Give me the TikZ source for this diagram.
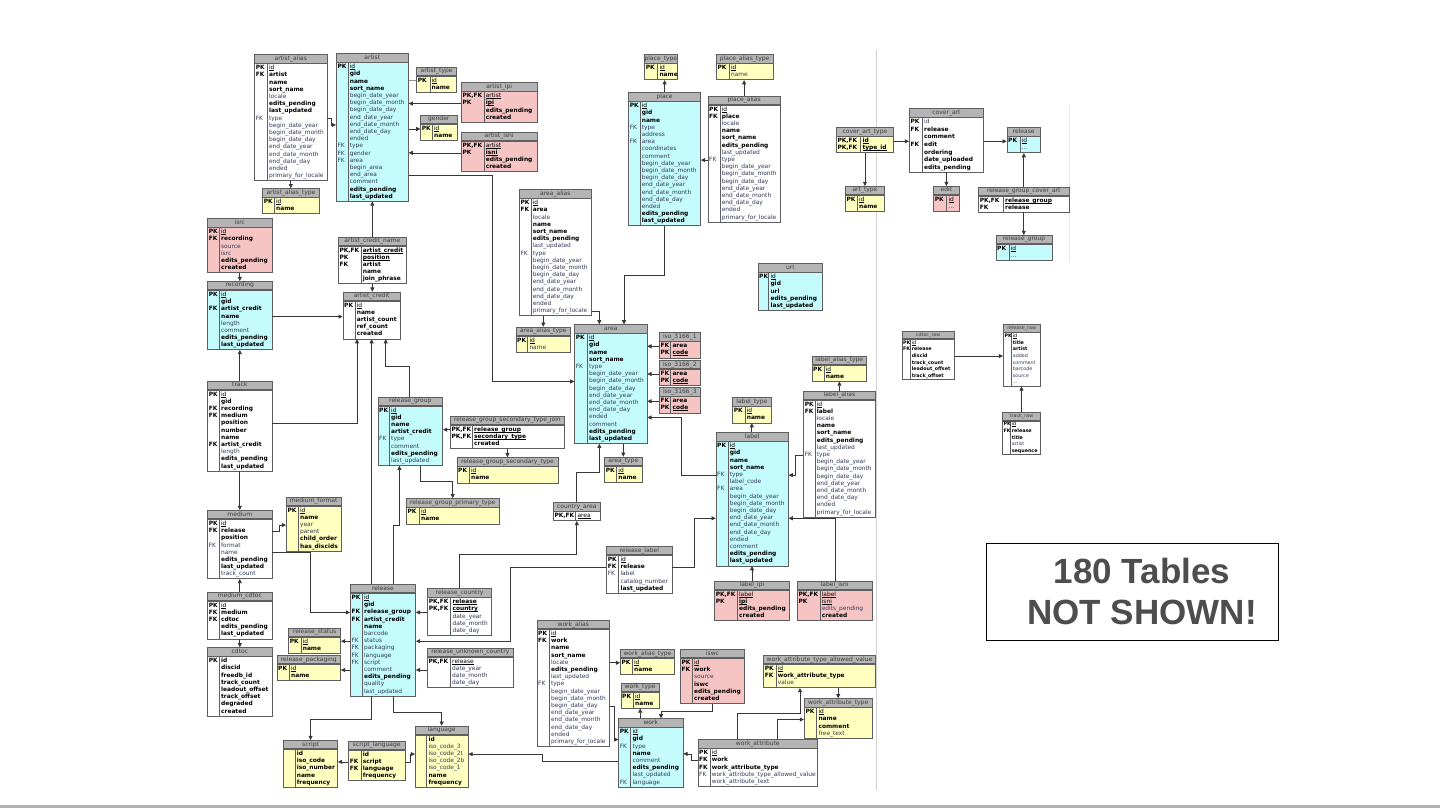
\documentclass[tikz,border=0pt]{standalone}
\usepackage{fontspec}
\setmainfont{DejaVu Sans}
\newfontfamily\notefont{Liberation Sans}
\usetikzlibrary{arrows.meta,calc}
\definecolor{tline}{RGB}{95,95,95}
\definecolor{hdfill}{RGB}{180,180,180}
\definecolor{hdtext}{RGB}{60,60,60}
\definecolor{slate}{RGB}{50,58,90}
\definecolor{cyanb}{RGB}{196,252,253}
\definecolor{yelb}{RGB}{255,255,192}
\definecolor{pinkb}{RGB}{247,196,196}
\definecolor{lnk}{RGB}{55,55,55}
\definecolor{notegray}{RGB}{77,77,77}
\newcommand{\hfont}{\fontsize{6}{7}\selectfont}
\newcommand{\ffont}{\fontsize{5.9}{7.2}\selectfont}
\newcommand{\kfont}{\fontsize{5.9}{7.2}\selectfont\bfseries}
\newcommand{\hh}{8.4}
\newcommand{\bx}{9}
\newcommand{\fo}{5}
\newcommand{\nnf}[1]{{\bfseries\color{black}#1}}
\newcommand{\ulf}[1]{{\color{black}\setbox0=\hbox{#1}\rlap{\rule[-0.75pt]{\wd0}{0.35pt}}\box0}}
\newcommand{\pkf}[1]{\ulf{#1}}
\newcommand{\pkb}[1]{\ulf{\bfseries #1}}
\newcommand{\lfk}{{\mdseries\color{slate}FK}}
\newcommand{\rawsetup}{%
  \renewcommand{\hfont}{\fontsize{4.8}{5.6}\selectfont}%
  \renewcommand{\ffont}{\fontsize{4.8}{5.6}\selectfont}%
  \renewcommand{\kfont}{\fontsize{4.8}{5.6}\selectfont\bfseries}%
  \renewcommand{\hh}{7.6}\renewcommand{\bx}{7.4}\renewcommand{\fo}{4}}
\tikzset{
  thead/.style={draw=tline,fill=hdfill,line width=0.6pt,inner sep=0pt,anchor=north west,
    minimum height=\hh pt,font=\hfont,text=hdtext,text height=4.2pt,text depth=1.2pt},
  tbody/.style={draw=tline,line width=0.6pt,inner sep=0pt,anchor=north west},
  keyt/.style={inner sep=0pt,anchor=west,font=\kfont,text height=4.2pt,text depth=1.3pt},
  fldt/.style={inner sep=0pt,anchor=west,font=\ffont,text=slate,text height=4.2pt,text depth=1.3pt},
  colsep/.style={draw=tline,line width=0.5pt},
  fk/.style={draw=lnk,line width=0.7pt,-{Triangle[length=4.2pt,width=4pt]}},
  plainln/.style={draw=lnk!55,line width=0.7pt},
  notebox/.style={draw=black,line width=0.8pt,minimum width=292pt,minimum height=97pt,inner sep=0pt},
  notetext/.style={align=center,inner sep=0pt,text=notegray,
    font=\notefont\bfseries\fontsize{35}{41}\selectfont},
}
% [pitch]{id}{title}{x}{y}{width}{key column}{fill}{rows}
\newcommand{\dbtable}[9][7.2]{%
  \node[thead,minimum width=#6pt] (#2-h) at (#4,#5) {#3};
  \foreach \rowitem [count=\cnt] in {#9} {\xdef\nrows{\cnt}}
  \node[tbody,fill=#8,minimum width=#6pt,minimum height={(\nrows-1)*#1+\bx}] (#2) at (#2-h.south west) {};
  \draw[colsep] ([xshift=#7pt]#2.north west) -- ([xshift=#7pt]#2.south west);
  \foreach \keytxt/\fldtxt [count=\i] in {#9} {
    \node[keyt] (#2-k\i) at ($(#2.north west)+(1.3,{\fo+(\i-1)*#1})$) {\keytxt};
    \node[fldt] (#2-f\i) at ($(#2.north west)+(#7+1.6,{\fo+(\i-1)*#1})$) {\fldtxt};
  }
}
\begin{document}
\catcode`\_=12
\begin{tikzpicture}[x=1pt,y=-1pt]
\useasboundingbox (0,0) rectangle (1440,810);
\draw[gray!35,line width=0.6pt] (876,50) -- (876,790);
\draw[gray!20,line width=0.6pt] (1069,105) -- (1069,262);
\draw[gray!60,line width=2.5pt] (0,806.5) -- (1440,806.5);

\dbtable{artist_alias}{artist_alias}{254.3}{54.3}{72.4}{13}{white}{PK/\pkf{id}, FK/\nnf{artist}, /\nnf{name}, /\nnf{sort_name}, /locale, /\nnf{edits_pending}, /\nnf{last_updated}, \lfk/type, /begin_date_year, /begin_date_month, /begin_date_day, /end_date_year, /end_date_month, /end_date_day, /ended, /primary_for_locale}
\dbtable{artist}{artist}{336}{53.3}{72}{12}{cyanb}{PK/\pkf{id}, /\nnf{gid}, /\nnf{name}, /\nnf{sort_name}, /begin_date_year, /begin_date_month, /begin_date_day, /end_date_year, /end_date_month, /end_date_day, /ended, \lfk/type, \lfk/gender, \lfk/area, /begin_area, /end_area, /comment, /\nnf{edits_pending}, /\nnf{last_updated}}
\dbtable{artist_type}{artist_type}{416.3}{66.7}{40}{13.5}{yelb}{PK/\pkf{id}, /\nnf{name}}
\dbtable{gender}{gender}{420.3}{115}{36.4}{12}{yelb}{PK/\pkf{id}, /\nnf{name}}
\dbtable{artist_ipi}{artist_ipi}{461}{82.3}{75.7}{23}{pinkb}{{PK,FK}/\pkf{artist}, PK/\pkb{ipi}, /\nnf{edits_pending}, /\nnf{created}}
\dbtable{artist_isni}{artist_isni}{461}{131.7}{75.7}{23}{pinkb}{{PK,FK}/\pkf{artist}, PK/\pkb{isni}, /\nnf{edits_pending}, /\nnf{created}}
\dbtable{artist_alias_type}{artist_alias_type}{262.3}{188.3}{56.7}{12}{yelb}{PK/\pkf{id}, /\nnf{name}}
\dbtable{isrc}{isrc}{207.3}{218.3}{64.4}{12}{pinkb}{PK/\pkf{id}, FK/\nnf{recording}, /source, /isrc, /\nnf{edits_pending}, /\nnf{created}}
\dbtable{recording}{recording}{207.3}{281}{64.4}{12}{cyanb}{PK/\pkf{id}, /\nnf{gid}, FK/\nnf{artist_credit}, /\nnf{name}, /length, /comment, /\nnf{edits_pending}, /\nnf{last_updated}}
\dbtable{artist_credit_name}{artist_credit_name}{338}{236.7}{68}{23}{white}{{PK,FK}/\pkb{artist_credit}, PK/\pkb{position}, FK/\nnf{artist}, /\nnf{name}, /\nnf{join_phrase}}
\dbtable{artist_credit}{artist_credit}{342.7}{291.7}{57.3}{12.3}{white}{PK/\pkf{id}, /\nnf{name}, /\nnf{artist_count}, /\nnf{ref_count}, /\nnf{created}}
\dbtable{track}{track}{207.3}{380.7}{64.4}{12}{white}{PK/\pkf{id}, /\nnf{gid}, FK/\nnf{recording}, FK/\nnf{medium}, /\nnf{position}, /\nnf{number}, /\nnf{name}, FK/\nnf{artist_credit}, /length, /\nnf{edits_pending}, /\nnf{last_updated}}
\dbtable{medium}{medium}{207.3}{510}{64.4}{12}{white}{PK/\pkf{id}, FK/\nnf{release}, /\nnf{position}, \lfk/format, /name, /\nnf{edits_pending}, /\nnf{last_updated}, /track_count}
\dbtable{medium_format}{medium_format}{286}{496.7}{54.7}{12.3}{yelb}{PK/\pkf{id}, /\nnf{name}, /year, /parent, /\nnf{child_order}, /\nnf{has_discids}}
\dbtable{medium_cdtoc}{medium_cdtoc}{207.3}{591.7}{64.4}{12}{white}{PK/\pkf{id}, FK/\nnf{medium}, FK/\nnf{cdtoc}, /\nnf{edits_pending}, /\nnf{last_updated}}
\dbtable{cdtoc}{cdtoc}{207.3}{647.3}{64.4}{12}{white}{PK/\nnf{id}, /\nnf{discid}, /\nnf{freedb_id}, /\nnf{track_count}, /\nnf{leadout_offset}, /\nnf{track_offset}, /\nnf{degraded}, /\nnf{created}}
\dbtable{release_group}{release_group}{377.7}{396.7}{64.7}{11.7}{cyanb}{PK/\pkf{id}, /\nnf{gid}, /\nnf{name}, /\nnf{artist_credit}, \lfk/type, /comment, /\nnf{edits_pending}, /last_updated}
\dbtable{release_group_secondary_type_join}{release_group_secondary_type_join}{450}{415.7}{114.3}{22.3}{white}{{PK,FK}/\pkb{release_group}, {PK,FK}/\pkb{secondary_type}, /\nnf{created}}
\dbtable{release_group_secondary_type}{release_group_secondary_type}{456.7}{457.3}{101}{12.6}{yelb}{PK/\pkf{id}, /\nnf{name}}
\dbtable{release_group_primary_type}{release_group_primary_type}{406}{498.3}{92.7}{13.3}{yelb}{PK/\pkf{id}, /\nnf{name}}
\dbtable{country_area}{country_area}{553}{502.3}{47}{22.7}{white}{{PK,FK}/\pkf{area}}
\dbtable{area_alias}{area_alias}{519}{189.3}{72}{12}{white}{PK/\pkf{id}, FK/\nnf{area}, /locale, /\nnf{name}, /\nnf{sort_name}, /\nnf{edits_pending}, /last_updated, \lfk/type, /begin_date_year, /begin_date_month, /begin_date_day, /end_date_year, /end_date_month, /end_date_day, /ended, /primary_for_locale}
\dbtable{area_alias_type}{area_alias_type}{515.7}{326.7}{54.6}{12}{yelb}{PK/\pkf{id}, /name}
\dbtable{area}{area}{574.3}{324.3}{72.4}{13}{cyanb}{PK/\pkf{id}, /\nnf{gid}, /\nnf{name}, /\nnf{sort_name}, \lfk/type, /begin_date_year, /begin_date_month, /begin_date_day, /end_date_year, /end_date_month, /end_date_day, /ended, /comment, /\nnf{edits_pending}, /\nnf{last_updated}}
\dbtable{iso_3166_1}{iso_3166_1}{659}{332.3}{41}{11.7}{pinkb}{FK/\nnf{area}, PK/\pkb{code}}
\dbtable{iso_3166_2}{iso_3166_2}{659}{360}{41}{11.7}{pinkb}{FK/\nnf{area}, PK/\pkb{code}}
\dbtable{iso_3166_3}{iso_3166_3}{659}{387.3}{41}{11.7}{pinkb}{FK/\nnf{area}, PK/\pkb{code}}
\dbtable{area_type}{area_type}{604.3}{456.7}{37.4}{12.3}{yelb}{PK/\pkf{id}, /\nnf{name}}
\dbtable{place_type}{place_type}{644.3}{54.3}{32.4}{13.4}{yelb}{PK/\pkf{id}, /\nnf{name}}
\dbtable{place_alias_type}{place_alias_type}{716}{54.3}{56.7}{13.3}{yelb}{PK/\pkf{id}, /name}
\dbtable{place}{place}{628.3}{92.3}{72}{11.7}{cyanb}{PK/\pkf{id}, /\nnf{gid}, /\nnf{name}, \lfk/type, /address, \lfk/area, /coordinates, /comment, /begin_date_year, /begin_date_month, /begin_date_day, /end_date_year, /end_date_month, /end_date_day, /ended, /\nnf{edits_pending}, /\nnf{last_updated}}
\dbtable{place_alias}{place_alias}{707.7}{95.7}{72.3}{12.3}{white}{PK/\pkf{id}, FK/\nnf{place}, /locale, /\nnf{name}, /\nnf{sort_name}, /\nnf{edits_pending}, /last_updated, \lfk/type, /begin_date_year, /begin_date_month, /begin_date_day, /end_date_year, /end_date_month, /end_date_day, /ended, /primary_for_locale}
\dbtable{url}{url}{757.7}{263.3}{64.3}{11}{cyanb}{PK/\pkf{id}, /\nnf{gid}, /\nnf{url}, /\nnf{edits_pending}, /\nnf{last_updated}}
\dbtable{label_type}{label_type}{732.3}{397.3}{38.4}{12.7}{yelb}{PK/\pkf{id}, /\nnf{name}}
\dbtable{label}{label}{715.7}{432.3}{72.3}{12.3}{cyanb}{PK/\pkf{id}, /\nnf{gid}, /\nnf{name}, /\nnf{sort_name}, \lfk/type, /label_code, \lfk/area, /begin_date_year, /begin_date_month, /begin_date_day, /end_date_year, /end_date_month, /end_date_day, /ended, /comment, /\nnf{edits_pending}, /\nnf{last_updated}}
\dbtable{label_alias_type}{label_alias_type}{811.7}{355.7}{54.6}{12.3}{yelb}{PK/\pkf{id}, /\nnf{name}}
\dbtable{label_alias}{label_alias}{803.3}{390.7}{71.7}{11.7}{white}{PK/\pkf{id}, FK/\nnf{label}, /locale, /\nnf{name}, /\nnf{sort_name}, /\nnf{edits_pending}, /last_updated, \lfk/type, /begin_date_year, /begin_date_month, /begin_date_day, /end_date_year, /end_date_month, /end_date_day, /ended, /primary_for_locale}
\dbtable{release_label}{release_label}{606.3}{546}{65.4}{12.4}{white}{PK/\pkf{id}, FK/\nnf{release}, \lfk/label, /catalog_number, /\nnf{last_updated}}
\dbtable{label_ipi}{label_ipi}{714.3}{580.7}{74.7}{23}{pinkb}{{PK,FK}/\pkf{label}, PK/\pkb{ipi}, /\nnf{edits_pending}, /\nnf{created}}
\dbtable{label_isni}{label_isni}{797}{580.7}{74.7}{23}{pinkb}{{PK,FK}/\pkf{label}, PK/\pkf{isni}, /edits_pending, /\nnf{created}}
\dbtable{release}{release}{350}{584}{65.3}{12.3}{cyanb}{PK/\pkf{id}, /\nnf{gid}, FK/\nnf{release_group}, FK/\nnf{artist_credit}, /\nnf{name}, /barcode, \lfk/status, \lfk/packaging, \lfk/language, \lfk/script, /comment, /\nnf{edits_pending}, /quality, /last_updated}
\dbtable{release_status}{release_status}{288.3}{627.7}{52}{12.7}{yelb}{PK/\pkf{id}, /\nnf{name}}
\dbtable{release_packaging}{release_packaging}{276.7}{655}{63.6}{12.6}{yelb}{PK/\pkf{id}, /\nnf{name}}
\dbtable{release_country}{release_country}{427.3}{588.3}{64}{23.4}{white}{{PK,FK}/\pkb{release}, {PK,FK}/\pkb{country}, /date_year, /date_month, /date_day}
\dbtable{release_unknown_country}{release_unknown_country}{427}{647.7}{86}{23.4}{white}{{PK,FK}/\pkf{release}, /date_year, /date_month, /date_day}
\dbtable{script}{script}{283.3}{740}{54}{11.7}{yelb}{/\nnf{id}, /\nnf{iso_code}, /\nnf{iso_number}, /\nnf{name}, /\nnf{frequency}}
\dbtable{script_language}{script_language}{348.3}{740.7}{56.4}{12.7}{yelb}{/\nnf{id}, FK/\nnf{script}, FK/\nnf{language}, /\nnf{frequency}}
\dbtable{language}{language}{415}{725.7}{52.7}{11.7}{yelb}{/\nnf{id}, /iso_code_3, /iso_code_2t, /iso_code_2b, /iso_code_1, /\nnf{name}, /\nnf{frequency}}
\dbtable{work_alias}{work_alias}{536.7}{620}{72.6}{12.6}{white}{PK/\pkf{id}, FK/\nnf{work}, /\nnf{name}, /\nnf{sort_name}, /locale, /\nnf{edits_pending}, /last_updated, \lfk/type, /begin_date_year, /begin_date_month, /begin_date_day, /end_date_year, /end_date_month, /end_date_day, /ended, /primary_for_locale}
\dbtable{work_alias_type}{work_alias_type}{620}{649}{54.3}{12.3}{yelb}{PK/\pkf{id}, /\nnf{name}}
\dbtable{iswc}{iswc}{680}{649}{64.3}{12.3}{pinkb}{PK/\pkf{id}, FK/\nnf{work}, /source, /\nnf{iswc}, /\nnf{edits_pending}, /\nnf{created}}
\dbtable{work_type}{work_type}{620.7}{682.7}{38.3}{12.6}{yelb}{PK/\pkf{id}, /\nnf{name}}
\dbtable{work}{work}{618.3}{718.3}{64.4}{12.4}{cyanb}{PK/\pkf{id}, /\nnf{gid}, \lfk/type, /\nnf{name}, /comment, /\nnf{edits_pending}, /last_updated, \lfk/language}
\dbtable{work_attribute}{work_attribute}{697.7}{739.3}{119.6}{12.3}{white}{PK/\pkf{id}, FK/\nnf{work}, FK/\nnf{work_attribute_type}, \lfk/work_attribute_type_allowed_value, /work_attribute_text}
\dbtable{work_attribute_type_allowed_value}{work_attribute_type_allowed_value}{763.3}{655}{111.7}{12.7}{yelb}{PK/\pkf{id}, FK/\nnf{work_attribute_type}, /value}
\dbtable{work_attribute_type}{work_attribute_type}{804}{698.3}{67.7}{12.7}{yelb}{PK/\pkf{id}, /\nnf{name}, /\nnf{comment}, /free_text}
\dbtable{cover_art_type}{cover_art_type}{836}{127.3}{57.3}{24.7}{yelb}{{PK,FK}/\pkb{id}, {PK,FK}/\pkb{type_id}}
\dbtable{art_type}{art_type}{845}{186}{39.3}{12.3}{yelb}{PK/\pkf{id}, /\nnf{name}}
\dbtable[7.6]{cover_art}{cover_art}{909}{108.3}{74.3}{13.3}{white}{PK/id, FK/\nnf{release}, /\nnf{comment}, FK/\nnf{edit}, /\nnf{ordering}, /\nnf{date_uploaded}, /\nnf{edits_pending}}
\dbtable{edit}{edit}{933.3}{186}{25.7}{13.4}{pinkb}{PK/\pkf{id}, /\dots}
\dbtable{release_s}{release}{1006.7}{127.3}{33.3}{13.3}{cyanb}{PK/\pkf{id}, /\dots}
\dbtable{release_group_cover_art}{release_group_cover_art}{978.3}{186.7}{90.4}{25}{white}{{PK,FK}/\pkb{release_group}, FK/\nnf{release}}
\dbtable{release_group_s}{release_group}{995.7}{235}{56}{13.3}{cyanb}{PK/\pkf{id}, /\dots}
\begin{scope}
  \rawsetup
  \dbtable[6.6]{cdtoc_raw}{cdtoc_raw}{901.7}{330.7}{52.3}{8.3}{white}{PK/\pkf{id}, FK/\nnf{release}, /\nnf{discid}, /\nnf{track_count}, /\nnf{leadout_offset}, /\nnf{track_offset}}
  \dbtable[6.6]{release_raw}{release_raw}{1003}{324}{36.7}{8}{white}{PK/\pkf{id}, /\nnf{title}, /\nnf{artist}, /added, /comment, /barcode, /source, /\dots}
  \dbtable[6.6]{track_raw}{track_raw}{1002}{412.3}{38.3}{8}{white}{PK/\pkf{id}, FK/\nnf{release}, /\nnf{title}, /artist, /\nnf{sequence}}
\end{scope}

\node[notebox] (note) at (1132,591.5) {};
\node[notetext] (notetxt) at ([xshift=10pt,yshift=0.5pt]note.center) {180 Tables\\NOT SHOWN!};

\draw[fk] (artist_alias.east |- artist_alias-f8) -- ++(4.5,0) |- (artist.west |- artist-f9);
\draw[fk] (artist_alias.south) -- (artist_alias.south |- artist_alias_type-h.north);
\draw[plainln] (artist.east |- artist_type-f1) -- (artist_type.west |- artist_type-f1);
\draw[fk] (artist_ipi.west |- artist_ipi-f2) -- (artist.east |- artist_ipi-f2);
\draw[fk] (artist.east |- gender-f1) -- (gender.west |- gender-f1);
\draw[fk] (artist_isni.west |- artist_isni-f2) -- (artist.east |- artist_isni-f2);
\draw[fk] (artist.east |- artist-f16) -- ++(84,0) |- (area.west |- area-f7);
\draw[fk] (artist_credit_name-h.north) -- (artist.south -| artist_credit_name-h.north);
\draw[fk] (artist_credit_name.south) -- (artist_credit_name.south |- artist_credit-h.north);
\draw[fk] (isrc.south) -- (isrc.south |- recording-h.north);
\draw[fk] (recording.east |- recording-f4) -- (artist_credit.west |- recording-f4);
\draw[fk] (track-h.north) -- (track-h.north |- recording.south);
\draw[fk] (track.east |- track-f5) -| ([xshift=14.3pt]artist_credit.south west);
\draw[fk] (release-h.north -| artist_credit.south) -- (artist_credit.south);
\draw[fk] ([xshift=32pt]release_group-h.north west) -- ++(0,-30) -| ([xshift=43pt]artist_credit.south west);
\draw[fk] (track.south) -- (track.south |- medium-h.north);
\draw[fk] (medium.east |- medium-f2) -- ++(7.5,0) |- (medium_format.west |- medium_format-f3);
\draw[fk] (medium_cdtoc-h.north) -- (medium_cdtoc-h.north |- medium.south);
\draw[fk] (medium_cdtoc.south) -- (medium_cdtoc.south |- cdtoc-h.north);
\draw[fk] (medium.east |- medium-f5) -- ++(38.3,0) |- (release.west |- release-f3);
\draw[fk] (release_group_secondary_type_join.west |- release_group_secondary_type_join-f1) -- (release_group.east |- release_group_secondary_type_join-f1);
\draw[fk] (release_group_secondary_type_join.south) -- (release_group_secondary_type_join.south |- release_group_secondary_type-h.north);
\draw[fk] ([xshift=43pt]release_group.south west) -- ++(0,16) -| (release_group_primary_type-h.north);
\draw[fk] ([xshift=43.3pt]release-h.north west) -- ++(0,-59) -| ([xshift=21.7pt]release_group.south west);
\draw[fk] (country_area-h.north) -- ++(0,-30) -| ([xshift=25pt]area.south west);
\draw[fk] (area.south -| area_type-h.north) -- (area_type-h.north);
\draw[fk] ([xshift=32pt]release_country-h.north west) -- ++(0,-34.3) -| (country_area.south);
\draw[fk] (release_country.west |- release-f3) -- (release.east |- release-f3);
\draw[fk] (release_unknown_country.west |- release-f11) -- (release.east |- release-f11);
\draw[fk] (release_label.west |- release_label-f2) -- ++(-96,0) |- (release.east |- release-f7);
\draw[fk] (release.west |- release-f7) -- (release_status.east |- release-f7);
\draw[fk] (release.west |- release-f11) -- (release_packaging.east |- release-f11);
\draw[fk] ([xshift=21.7pt]release.south west) -- ++(0,23) -| (script-h.north);
\draw[fk] ([xshift=43.3pt]release.south west) -- ++(0,16) -| (language-h.north);
\draw[fk] (script_language.west |- script_language-f2) -- (script.east |- script_language-f2);
\draw[fk] (script_language.east |- script_language-f2) -- ++(4.6,0) |- (language.west |- language-f3);
\draw[fk] (work.west |- work-f5) -- ++(-75.6,0) |- (language.east |- language-f3);
\draw[fk] (work_alias.east |- work_alias-f5) -- (work_alias_type.west |- work_alias-f5);
\draw[fk] (work_alias.east |- work_alias-f11) -- ++(4,0) |- (work.west |- work-f2);
\draw[fk] (work-h.north -| work_type.south) -- (work_type.south);
\draw[fk] (iswc.south) -- ++(0,8) -| ([xshift=42.7pt]work-h.north west);
\draw[fk] (work_attribute.west |- work_attribute-f2) -- ++(-6.7,0) |- (work.east |- work-f4);
\draw[fk] ([xshift=40pt]work_attribute-h.north west) -- ++(0,-26) -| ([xshift=36.7pt]work_attribute_type_allowed_value.south west);
\draw[fk] ([xshift=80pt]work_attribute-h.north west) |- (work_attribute_type.west |- work_attribute_type-f2);
\draw[fk] (work_attribute_type_allowed_value.south -| work_attribute_type-h.north) -- (work_attribute_type-h.north);
\draw[fk] (label_ipi-h.north) -- (label.south -| label_ipi-h.north);
\draw[fk] ([xshift=38pt]label_isni-h.north west) |- (label.east |- label-f11);
\draw[fk] (release_label.east |- release_label-f2) -- ++(21.6,0) |- (label.west |- label-f11);
\draw[fk] (label-h.north -| label_type.south) -- (label_type.south);
\draw[fk] (label.west |- label-f5) -- ++(-34,0) |- (area.east |- area-f12);
\draw[fk] (label_alias.west |- label_alias-f8) -- ++(-8.3,0) |- (label.east |- label-f5);
\draw[fk] (label_alias-h.north) -- (label_alias-h.north |- label_alias_type.south);
\foreach \iso in {iso_3166_1,iso_3166_2,iso_3166_3}
  \draw[fk] (\iso.west |- \iso-f1) -- (area.east |- \iso-f1);
\draw[fk] (area_alias.east |- area_alias-f16) -| ([xshift=25pt]area-h.north west);
\draw[fk] (area_alias.south -| area_alias_type-h.north) -- (area_alias_type-h.north);
\draw[fk] (place.south) -- ++(0,49.7) -| ([xshift=49.7pt]area-h.north west);
\draw[fk] (place-h.north) -- (place-h.north |- place_type.south);
\draw[fk] (place_alias-h.north) -- (place_alias-h.north |- place_alias_type.south);
\draw[fk] (place_alias.west |- place_alias-f8) -- (place.east |- place_alias-f8);
\draw[fk] (cover_art_type.east |- cover_art_type-f1) -- (cover_art.west |- cover_art_type-f1);
\draw[fk] (cover_art_type.south) -- (cover_art_type.south |- art_type-h.north);
\draw[fk] (cover_art.east |- release_s-f1) -- (release_s.west |- release_s-f1);
\draw[fk] (cover_art.south) -- (cover_art.south |- edit-h.north);
\draw[fk] (release_group_cover_art-h.north) -- (release_group_cover_art-h.north |- release_s.south);
\draw[fk] (release_group_cover_art.south) -- (release_group_cover_art.south |- release_group_s-h.north);
\draw[fk] (cdtoc_raw.east |- cdtoc_raw-f3) -- (release_raw.west |- cdtoc_raw-f3);
\draw[fk] (track_raw-h.north) -- (track_raw-h.north |- release_raw.south);
\end{tikzpicture}
\end{document}
